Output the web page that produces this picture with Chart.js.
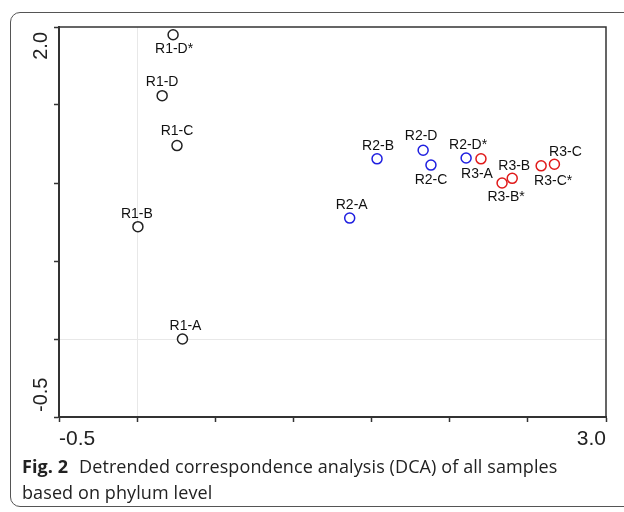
<!DOCTYPE html>
<html>
<head>
<meta charset="utf-8">
<script src="https://cdn.jsdelivr.net/npm/chart.js@4.4.1/dist/chart.umd.min.js"></script>
<style>
  html, body { margin: 0; padding: 0; background: #fff; overflow: hidden; }
  body { width: 624px; height: 512px; position: relative; }
  #frame {
    position: absolute; left: 10px; top: 12px; width: 640px; height: 495px;
    border: 1px solid #555; border-radius: 10px; box-sizing: border-box;
  }
  #wrap { position: absolute; left: 0; top: 0; width: 624px; height: 455px; }
  #caption {
    position: absolute; left: 22px; top: 453px; width: 600px; white-space: nowrap;
    font-family: "Open Sans", sans-serif; font-size: 18px; line-height: 26px; color: #222;
    letter-spacing: 0.1px;
  }
  #caption b { font-weight: 700; margin-right: 6px; }
</style>
</head>
<body>
<div id="frame"></div>
<div id="wrap"><canvas id="dca"></canvas></div>
<div id="caption"><b>Fig. 2</b> Detrended correspondence analysis (DCA) of all samples<br>based on phylum level</div>
<script>
  // sample scores
  const r1Names = ["R1-A", "R1-B", "R1-C", "R1-D", "R1-D*"];
  const r1X = [0.29, 0.005, 0.255, 0.16, 0.23];
  const r1Y = [0.0, 0.72, 1.24, 1.56, 1.95];

  const r2Names = ["R2-A", "R2-B", "R2-C", "R2-D", "R2-D*"];
  const r2X = [1.36, 1.535, 1.88, 1.83, 2.105];
  const r2Y = [0.775, 1.155, 1.115, 1.21, 1.16];

  const r3Names = ["R3-A", "R3-B", "R3-B*", "R3-C", "R3-C*"];
  const r3X = [2.20, 2.40, 2.335, 2.67, 2.585];
  const r3Y = [1.155, 1.03, 1.0, 1.12, 1.11];

  const xTickLabels = ["-0.5", "3.0"];
  const yTickLabels = ["-0.5", "2.0"];

  // label placement (pixel offsets from the marker)
  const labelOffsets = {
    "R1-A": [3, -13], "R1-B": [-1, -13], "R1-C": [0, -14], "R1-D": [0, -13], "R1-D*": [1, 14],
    "R2-A": [2, -13], "R2-B": [1, -13], "R2-C": [0, 15], "R2-D": [-2, -14], "R2-D*": [2, -13],
    "R3-A": [-4, 15], "R3-B": [2, -12], "R3-B*": [4, 14], "R3-C": [11, -12], "R3-C*": [12, 15]
  };

  const toPoints = (xs, ys) => xs.map((x, i) => ({ x, y: ys[i] }));

  const series = [
    { names: r1Names, data: toPoints(r1X, r1Y), color: "#222222" },
    { names: r2Names, data: toPoints(r2X, r2Y), color: "#1f1fe0" },
    { names: r3Names, data: toPoints(r3X, r3Y), color: "#e01a1a" }
  ];

  const axisColor = "#333";

  const decorPlugin = {
    id: "decor",
    afterDraw(chart) {
      const { ctx, chartArea: a, scales } = chart;
      ctx.save();
      // top and right frame of the plot
      ctx.strokeStyle = axisColor;
      ctx.lineWidth = 1.5;
      ctx.beginPath();
      ctx.moveTo(a.left, a.top);
      ctx.lineTo(a.right, a.top);
      ctx.lineTo(a.right, a.bottom);
      ctx.stroke();

      // rotated y tick labels
      ctx.fillStyle = "#222";
      ctx.font = "20px 'Liberation Sans', Arial, sans-serif";
      ctx.textBaseline = "middle";
      const yMax = scales.y.getPixelForValue(2.0);
      const yMin = scales.y.getPixelForValue(-0.5);
      ctx.save();
      ctx.translate(41, yMax + 5);
      ctx.rotate(-Math.PI / 2);
      ctx.textAlign = "right";
      ctx.fillText(yTickLabels[1], 0, 0);
      ctx.restore();
      ctx.save();
      ctx.translate(41, yMin - 5);
      ctx.rotate(-Math.PI / 2);
      ctx.textAlign = "left";
      ctx.fillText(yTickLabels[0], 0, 0);
      ctx.restore();

      // sample labels
      ctx.font = "14px 'Liberation Sans', Arial, sans-serif";
      ctx.textAlign = "center";
      ctx.fillStyle = "#111";
      chart.data.datasets.forEach((ds, di) => {
        const meta = chart.getDatasetMeta(di);
        meta.data.forEach((pt, i) => {
          const name = series[di].names[i];
          const off = labelOffsets[name] || [0, -12];
          ctx.fillText(name, pt.x + off[0], pt.y + off[1]);
        });
      });
      ctx.restore();
    }
  };

  const gridColor = (c) => (c.tick && Math.abs(c.tick.value) < 1e-9 ? "#e8e8e8" : "rgba(0,0,0,0)");

  new Chart(document.getElementById("dca"), {
    type: "scatter",
    data: {
      datasets: series.map(s => ({
        data: s.data,
        borderColor: s.color,
        backgroundColor: "#fff",
        pointRadius: 5,
        pointBorderWidth: 1.5,
        pointHoverRadius: 5
      }))
    },
    options: {
      responsive: true,
      maintainAspectRatio: false,
      animation: false,
      layout: { padding: { top: 27, right: 18, left: 0, bottom: 0 } },
      plugins: { legend: { display: false }, tooltip: { enabled: false } },
      scales: {
        x: {
          type: "linear",
          min: -0.5,
          max: 3.0,
          afterFit: (s) => { s.height = 38; },
          border: { display: true, color: axisColor, width: 2 },
          grid: { color: gridColor, lineWidth: 1, tickColor: axisColor, tickLength: 5, tickWidth: 1.5 },
          ticks: {
            stepSize: 0.5,
            autoSkip: false,
            maxRotation: 0,
            align: "inner",
            padding: 5,
            color: "#222",
            font: { family: "'Liberation Sans', Arial, sans-serif", size: 21 },
            callback: (v) => (Math.abs(v + 0.5) < 1e-9 ? xTickLabels[0] : Math.abs(v - 3) < 1e-9 ? xTickLabels[1] : "")
          }
        },
        y: {
          type: "linear",
          min: -0.5,
          max: 2.0,
          afterFit: (s) => { s.width = 59; },
          border: { display: true, color: axisColor, width: 2 },
          grid: { color: gridColor, lineWidth: 1, tickColor: axisColor, tickLength: 5, tickWidth: 1.5 },
          ticks: { stepSize: 0.5, display: false }
        }
      }
    },
    plugins: [decorPlugin]
  });
</script>
</body>
</html>
